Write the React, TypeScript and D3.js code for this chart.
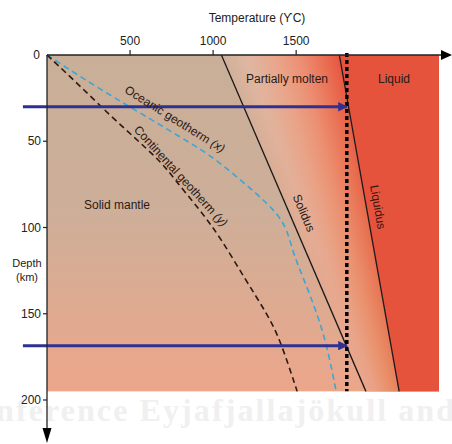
import React, { useEffect, useRef } from "react";
import * as d3 from "d3";

// values (temperature °C, depth km)
const tempTicks = [500, 1000, 1500];
const depthTicks = [50, 100, 150, 200];
const solidus: [number, number][] = [[1050, 0], [1920, 195]];
const liquidus: [number, number][] = [[1760, 0], [2120, 195]];
const oceanic: [number, number][] = [
  [0, 0], [320, 20], [639, 38], [861, 51], [1000, 59], [1283, 82], [1386, 92],
  [1446, 101], [1482, 115], [1542, 129], [1627, 150], [1687, 169], [1741, 195],
];
const continental: [number, number][] = [
  [0, 0], [200, 18], [410, 38], [681, 61], [759, 71], [922, 90], [1042, 105.5],
  [1193, 130], [1325, 150], [1404, 165], [1506, 195],
];
const arrowDepths = [30, 168.5];
const arrowStartTemp = -145;
const dottedTemp = 1805;
const maxTemp = 2360;
const maxDepth = 195;

export default function App() {
  const ref = useRef<SVGSVGElement>(null);

  useEffect(() => {
    const svg = d3.select(ref.current);
    svg.selectAll("*").remove();

    const x = d3.scaleLinear().domain([0, maxTemp]).range([47, 439]);
    const y = d3.scaleLinear().domain([0, 200]).range([55, 400]);
    const font = "'Liberation Sans', Arial, sans-serif";

    const defs = svg.append("defs");
    const bg = defs.append("linearGradient")
      .attr("id", "bgGrad").attr("x1", 0).attr("y1", 0).attr("x2", 0).attr("y2", 1);
    bg.append("stop").attr("offset", "0%").attr("stop-color", "#c9ae98");
    bg.append("stop").attr("offset", "45%").attr("stop-color", "#cdaf99");
    bg.append("stop").attr("offset", "100%").attr("stop-color", "#eca68a");

    defs.append("marker")
      .attr("id", "blueHead").attr("viewBox", "0 0 10 10")
      .attr("refX", 9).attr("refY", 5)
      .attr("markerWidth", 3.2).attr("markerHeight", 3.2)
      .attr("orient", "auto")
      .append("path").attr("d", "M0,0L10,5L0,10z").attr("fill", "#2e3192");

    // watermark behind everything
    svg.append("text")
      .attr("x", -4).attr("y", 421)
      .attr("font-family", "'Liberation Serif', 'DejaVu Serif', serif")
      .attr("font-weight", "bold").attr("font-size", 32)
      .attr("fill", "#f0f0f0")
      .attr("textLength", 458)
      .text("nference Eyjafjallajökull and");

    // base area
    svg.append("rect")
      .attr("x", x(0)).attr("y", y(0))
      .attr("width", x(maxTemp) - x(0)).attr("height", y(maxDepth) - y(0))
      .attr("fill", "url(#bgGrad)");

    // partially molten zone: strips between solidus and liquidus
    const red = "#e5533d";
    const topColor = d3.scaleLinear<string>()
      .domain([0, 0.2, 0.45, 0.65, 0.85, 1])
      .range(["#ceb19b", "#dfb7a2", "#e9a68b", "#ec9075", "#eb7055", "#e6553f"]);
    const botColor = d3.scaleLinear<string>()
      .domain([0, 0.3, 0.6, 0.9, 1])
      .range(["#eba68b", "#eaa084", "#e9946f", "#e8855f", "#e7805c"]);
    const lineAt = (t: number) => [
      solidus[0][0] + t * (liquidus[0][0] - solidus[0][0]),
      solidus[1][0] + t * (liquidus[1][0] - solidus[1][0]),
    ];
    const N = 50;
    for (let i = 0; i < N; i++) {
      const t0 = i / N;
      const t1 = Math.min(1, (i + 1.6) / N);
      const tm = (i + 0.5) / N;
      const g = defs.append("linearGradient").attr("id", `melt${i}`)
        .attr("gradientUnits", "userSpaceOnUse")
        .attr("x1", 0).attr("x2", 0).attr("y1", y(0)).attr("y2", y(maxDepth));
      g.append("stop").attr("offset", "0%").attr("stop-color", topColor(tm));
      g.append("stop").attr("offset", "100%").attr("stop-color", botColor(tm));
      const [a0, b0] = lineAt(t0);
      const [a1, b1] = lineAt(t1);
      svg.append("path")
        .attr("d", `M${x(a0)},${y(0)}L${x(a1)},${y(0)}L${x(b1)},${y(maxDepth)}L${x(b0)},${y(maxDepth)}Z`)
        .attr("fill", `url(#melt${i})`);
    }
    svg.append("path")
      .attr("d", `M${x(liquidus[0][0])},${y(0)}L${x(maxTemp)},${y(0)}L${x(maxTemp)},${y(maxDepth)}L${x(liquidus[1][0])},${y(maxDepth)}Z`)
      .attr("fill", red);

    // solidus / liquidus
    const straight = d3.line<[number, number]>().x(d => x(d[0])).y(d => y(d[1]));
    [solidus, liquidus].forEach(l => {
      svg.append("path").attr("d", straight(l)).attr("fill", "none")
        .attr("stroke", "#1a1a1a").attr("stroke-width", 1.3);
    });

    // geotherms
    const curve = d3.line<[number, number]>()
      .x(d => x(d[0])).y(d => y(d[1])).curve(d3.curveBasis);
    svg.append("path").attr("d", curve(oceanic)).attr("fill", "none")
      .attr("stroke", "#3ba6d6").attr("stroke-width", 1.6).attr("stroke-dasharray", "6,4");
    svg.append("path").attr("d", curve(continental)).attr("fill", "none")
      .attr("stroke", "#2a1a14").attr("stroke-width", 1.6).attr("stroke-dasharray", "6,4");

    // dotted vertical line
    svg.append("line")
      .attr("x1", x(dottedTemp)).attr("x2", x(dottedTemp))
      .attr("y1", y(0) - 2).attr("y2", y(maxDepth))
      .attr("stroke", "#000").attr("stroke-width", 3.5).attr("stroke-dasharray", "4,3");

    // blue arrows
    arrowDepths.forEach(d => {
      svg.append("line")
        .attr("x1", x(arrowStartTemp)).attr("x2", x(dottedTemp))
        .attr("y1", y(d)).attr("y2", y(d))
        .attr("stroke", "#2e3192").attr("stroke-width", 3)
        .attr("marker-end", "url(#blueHead)");
    });

    // axes
    const axisColor = "#222";
    svg.append("line").attr("x1", x(0)).attr("x2", 442).attr("y1", y(0)).attr("y2", y(0))
      .attr("stroke", axisColor).attr("stroke-width", 1.3);
    svg.append("path").attr("d", `M441,${y(0) - 5}L452,${y(0)}L441,${y(0) + 5}Z`).attr("fill", "#000");
    svg.append("line").attr("x1", x(0)).attr("x2", x(0)).attr("y1", y(0)).attr("y2", 430)
      .attr("stroke", axisColor).attr("stroke-width", 1.3);
    svg.append("path").attr("d", `M${x(0) - 4.5},428L${x(0)},443L${x(0) + 4.5},428Z`).attr("fill", "#000");

    tempTicks.forEach(t => {
      svg.append("line").attr("x1", x(t)).attr("x2", x(t)).attr("y1", y(0)).attr("y2", y(0) - 5)
        .attr("stroke", axisColor).attr("stroke-width", 1.2);
      svg.append("text").attr("x", x(t)).attr("y", 45).attr("text-anchor", "middle")
        .attr("font-family", font).attr("font-size", 12).attr("fill", "#222").text(t);
    });
    depthTicks.forEach(d => {
      svg.append("line").attr("x1", x(0) - 4).attr("x2", x(0)).attr("y1", y(d)).attr("y2", y(d))
        .attr("stroke", axisColor).attr("stroke-width", 1.2);
      svg.append("text").attr("x", 41).attr("y", y(d) + 4).attr("text-anchor", "end")
        .attr("font-family", font).attr("font-size", 12).attr("fill", "#222").text(d);
    });
    svg.append("text").attr("x", 40).attr("y", y(0) + 4).attr("text-anchor", "end")
      .attr("font-family", font).attr("font-size", 12).attr("fill", "#222").text(0);

    svg.append("text").attr("x", 257).attr("y", 22).attr("text-anchor", "middle")
      .attr("font-family", font).attr("font-size", 12).attr("fill", "#222").text("Temperature (ϒC)");
    svg.append("text").attr("x", 27).attr("y", 267).attr("text-anchor", "middle")
      .attr("font-family", font).attr("font-size", 11).attr("fill", "#222").text("Depth");
    svg.append("text").attr("x", 27).attr("y", 281).attr("text-anchor", "middle")
      .attr("font-family", font).attr("font-size", 11).attr("fill", "#222").text("(km)");

    // region labels
    const label = (px: number, py: number, txt: string, rot = 0, color = "#2a1a16") =>
      svg.append("text")
        .attr("transform", `translate(${px},${py}) rotate(${rot})`)
        .attr("text-anchor", "middle").attr("dy", "0.35em")
        .attr("font-family", font).attr("font-size", 12).attr("fill", color).text(txt);

    label(287, 79, "Partially molten");
    label(394, 79, "Liquid");
    label(117, 205, "Solid mantle");
    label(304, 213, "Solidus", 67);
    label(378, 207, "Liquidus", 80, "#3a1410");

    const oc = label(175, 119, "", 32);
    oc.append("tspan").text("Oceanic geotherm ");
    oc.append("tspan").attr("font-style", "italic").text("(x)");
    const co = label(181, 176, "", 47.5);
    co.append("tspan").text("Continental geotherm ");
    co.append("tspan").attr("font-style", "italic").text("(y)");
  }, []);

  return (
    <svg ref={ref} width={452} height={444}
      style={{ position: "absolute", left: 0, top: 0, background: "#fff" }} />
  );
}
